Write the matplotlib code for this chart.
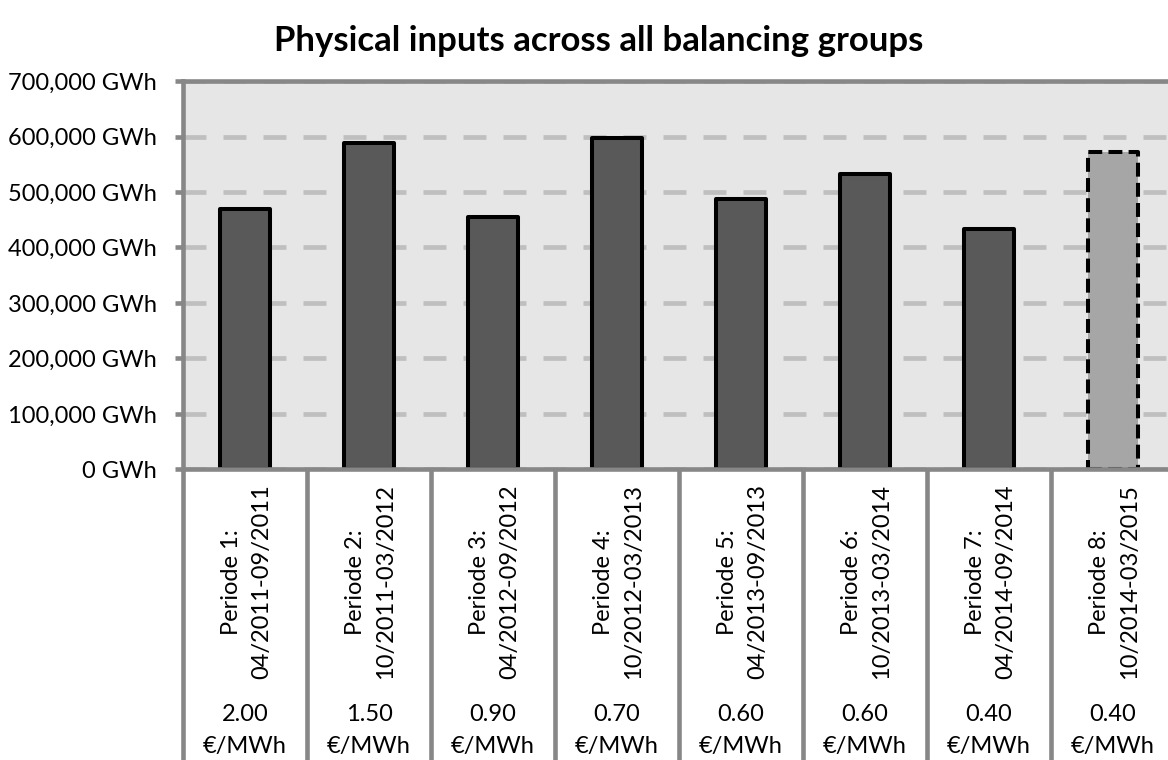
import matplotlib
matplotlib.use("Agg")
import matplotlib.pyplot as plt
from matplotlib.lines import Line2D
from matplotlib.ticker import FuncFormatter, MultipleLocator
import matplotlib.transforms as mtransforms

# Physical inputs per balancing period
periods = ["Periode 1:", "Periode 2:", "Periode 3:", "Periode 4:",
           "Periode 5:", "Periode 6:", "Periode 7:", "Periode 8:"]
date_ranges = ["04/2011-09/2011", "10/2011-03/2012", "04/2012-09/2012",
               "10/2012-03/2013", "04/2013-09/2013", "10/2013-03/2014",
               "04/2014-09/2014", "10/2014-03/2015"]
inputs_gwh = [469000, 588000, 455000, 597000, 487000, 533000, 433000, 572000]
prices_eur_mwh = [2.00, 1.50, 0.90, 0.70, 0.60, 0.60, 0.40, 0.40]
estimated = [False, False, False, False, False, False, False, True]

plt.rcParams["font.family"] = ["Lato", "DejaVu Sans"]
plt.rcParams["lines.scale_dashes"] = False

W, H = 1168, 760
fig = plt.figure(figsize=(W / 100, H / 100), dpi=100)
fig.patch.set_facecolor("white")

left_px, right_px, top_px, bottom_px = 183, 1175, 81, 469.5
ax = fig.add_axes([left_px / W, 1 - bottom_px / H,
                   (right_px - left_px) / W, (bottom_px - top_px) / H])
ax.set_facecolor("#e6e6e6")

n = len(inputs_gwh)
ax.set_xlim(0, n)
ax.set_ylim(0, 700000)

spine_col = "#878787"
spine_lw = 3.3

# gridlines
ax.yaxis.set_major_locator(MultipleLocator(100000))
ax.set_axisbelow(True)
ax.grid(axis="y", color="#bfbfbf", linewidth=3.4, linestyle=(0, (16.5, 12.3)))
ax.grid(axis="x", visible=False)

# bars
for i, (v, est) in enumerate(zip(inputs_gwh, estimated)):
    if est:
        ax.bar(i + 0.5, v, width=0.41, color="#a6a6a6", edgecolor="black",
               linewidth=2.9, linestyle=(0, (10, 4.5)), zorder=2,
               joinstyle="round", capstyle="butt")
    else:
        ax.bar(i + 0.5, v, width=0.41, color="#595959", edgecolor="black",
               linewidth=2.9, zorder=2, joinstyle="round")

# spines
for side in ("left", "top", "bottom", "right"):
    ax.spines[side].set_color(spine_col)
    ax.spines[side].set_linewidth(spine_lw)
    ax.spines[side].set_zorder(3)

# y axis ticks
ax.yaxis.set_major_formatter(FuncFormatter(lambda v, p: f"{int(v):,} GWh"))
ax.tick_params(axis="y", direction="out", length=6, width=spine_lw,
               color=spine_col, pad=13, labelsize=17, labelcolor="black")
ax.tick_params(axis="x", bottom=False, labelbottom=False)

# category table below the axis
trans = mtransforms.blended_transform_factory(ax.transData, ax.transAxes)
table_depth = (H - bottom_px + 5) / (bottom_px - top_px)
for k in range(n + 1):
    ax.add_line(Line2D([k, k], [0, -table_depth], transform=trans,
                       color=spine_col, linewidth=spine_lw, clip_on=False,
                       solid_capstyle="butt", zorder=3))

axis_h = bottom_px - top_px
def ay(px):
    return (bottom_px - px) / axis_h

for i in range(n):
    ax.text(i + 0.5 + 0.01, ay(582), f"{periods[i]}\n{date_ranges[i]}", transform=trans,
            rotation=90, ha="center", va="center", multialignment="center",
            fontsize=17, linespacing=1.55, color="black", clip_on=False)
    ax.text(i + 0.5, ay(715), f"{prices_eur_mwh[i]:.2f}", transform=trans,
            ha="center", va="center", fontsize=17, color="black", clip_on=False)
    ax.text(i + 0.5, ay(747), "€/MWh", transform=trans,
            ha="center", va="center", fontsize=17, color="black", clip_on=False)

fig.text(599 / W, 1 - 41 / H, "Physical inputs across all balancing groups",
         ha="center", va="center", fontsize=25, fontweight="bold", color="black")

fig.savefig("out.png", dpi=100)
